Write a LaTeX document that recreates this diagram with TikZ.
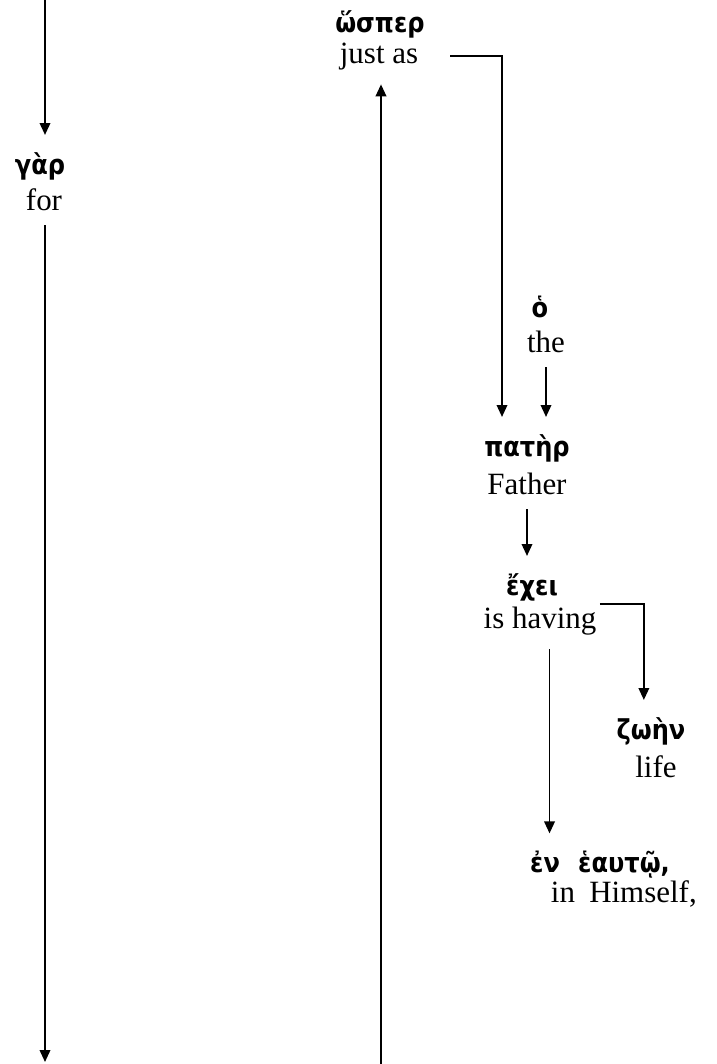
\documentclass[tikz,border=0pt]{standalone}
\usepackage{fontspec}
\setmainfont{Liberation Serif}
\newfontfamily\greekfont{DejaVu Sans}[FakeStretch=0.88]
\usetikzlibrary{positioning, calc, arrows.meta}

\begin{document}
\begin{tikzpicture}[x=0.42pt,y=-0.42pt,
        greek/.style={% Greek words
            anchor=base,
            inner ysep=7pt,
            font=\fontsize{11.5}{13}\greekfont\bfseries,
            },
        gloss/.style={% English glosses under the Greek
            anchor=base,
            inner ysep=6pt,
            font=\fontsize{13}{15}\selectfont,
            },
        ArrowD/.style={% straight connectors
            -{Triangle[length=5pt,width=4.4pt]},
            line width=0.8pt,
            },
        ArrowE/.style={% connectors with a corner
            ArrowD,
            },
            ]
    \useasboundingbox (0,0) rectangle (717,1064);
    % loose ends at the edges of the picture
    \coordinate (gartop) at (45,0);
    \coordinate (garend) at (45,1062);
    \coordinate (hosstart) at (381,1064);
    % words
    \node[greek] (gar) at (40,174) {γὰρ};
    \node[gloss] (for) at (44,210) {for};
    \node[greek] (hosper) at (380,32) {ὥσπερ};
    \node[gloss] (justas) at (379,63) {just as};
    \node[greek] (ho) at (540,317) {ὁ};
    \node[gloss] (the) at (546,352) {the};
    \node[greek] (pater) at (527,456) {πατὴρ};
    \node[gloss] (father) at (527,494) {Father};
    \node[greek] (echei) at (532,595) {ἔχει};
    \node[gloss] (having) at (540,628) {is having};
    \node[greek] (zoen) at (651,739) {ζωὴν};
    \node[gloss] (life) at (656,777) {life};
    \node[greek] (en) at (545,872) {ἐν};
    \node[greek] (heauto) at (624,872) {ἑαυτῷ,};
    \node[gloss] (in) at (563,902) {in};
    \node[gloss] (himself) at (643,902) {Himself,};
    % connectors
    \draw[ArrowD] (gartop) -- (gartop |- gar.north);
    \draw[ArrowD] (for.south -| garend) -- (garend);
    \draw[ArrowD] (hosstart) -- (hosstart |- justas.south);
    \draw[ArrowE] ([xshift=10pt]justas.east) -| ([xshift=-10.5pt]pater.north);
    \draw[ArrowD] (the.south) -- (the.south |- pater.north);
    \draw[ArrowD] (father.south) -- (father.south |- echei.north);
    \draw[ArrowE] ([shift={(-2pt,-5pt)}]having.north east) -| ([xshift=-3pt]zoen.north);
    \draw[ArrowD] ([xshift=4pt]having.south) -- ([xshift=4pt]having.south |- en.north);
\end{tikzpicture}
\end{document}
